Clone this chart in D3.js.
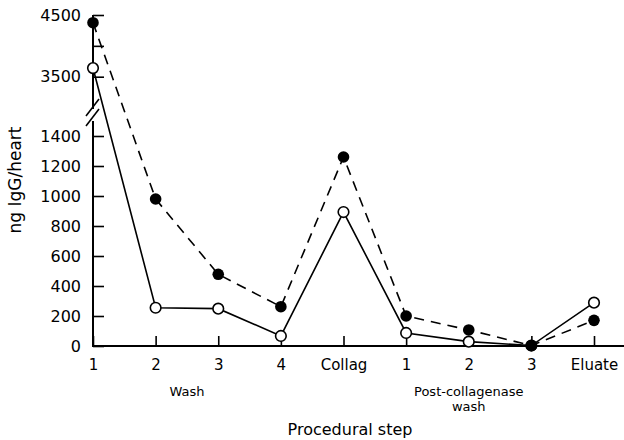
<!DOCTYPE html>
<html>
<head>
<meta charset="utf-8">
<script src="https://cdn.jsdelivr.net/npm/d3@7"></script>
<style>
  html, body { margin: 0; padding: 0; background: #fff; }
  svg { display: block; }
  text { font-family: "DejaVu Sans", sans-serif; fill: #000; }
</style>
</head>
<body>
<svg id="chart" width="624" height="440"></svg>
<script>
// ---- data ----
const categories = ["1", "2", "3", "4", "Collag", "1", "2", "3", "Eluate"];
const openValues = [3640, 255, 249, 67, 893, 87, 29, 3, 289];      // solid line, open circles
const filledValues = [4375, 980, 478, 262, 1260, 200, 107, 3, 171]; // dashed line, filled circles
const lowerTicks = [0, 200, 400, 600, 800, 1000, 1200, 1400];
const upperTicks = [3500, 4000, 4500];
const upperTickLabels = ["3500", "", "4500"];
const groupLabels = [
  { from: 0, to: 3, lines: ["Wash"] },
  { from: 5, to: 7, lines: ["Post-collagenase", "wash"] }
];
const xTitle = "Procedural step";
const yTitle = "ng IgG/heart";

// ---- layout ----
const svg = d3.select("#chart");
const x = d3.scalePoint().domain(d3.range(categories.length)).range([93, 594]);
const yLow = d3.scaleLinear().domain([0, 1400]).range([346, 136]);
const yHigh = d3.scaleLinear().domain([3500, 4500]).range([76.7, 15]);
const y = v => (v >= 3000 ? yHigh(v) : yLow(v));

const g = svg.append("g");

// x axis
const xAxis = d3.axisBottom(x)
  .tickSizeInner(-10).tickSizeOuter(0).tickPadding(13)
  .tickFormat(i => categories[i]);
const gx = g.append("g").attr("transform", "translate(0,346)").call(xAxis);
gx.select(".domain").remove();
gx.selectAll(".tick line").attr("stroke", "#000").attr("stroke-width", 1.6);
gx.selectAll(".tick text").style("font-size", "15px").style("font-family", "DejaVu Sans");
g.append("line").attr("x1", 92).attr("x2", 624).attr("y1", 346).attr("y2", 346)
  .attr("stroke", "#000").attr("stroke-width", 2);

// lower y axis
const yAxisLow = d3.axisLeft(yLow).tickValues(lowerTicks)
  .tickSizeInner(-11).tickSizeOuter(0).tickPadding(12).tickFormat(d3.format("d"));
const gyl = g.append("g").attr("transform", "translate(93,0)").call(yAxisLow);
gyl.select(".domain").remove();
// upper y axis
const yAxisHigh = d3.axisLeft(yHigh).tickValues(upperTicks)
  .tickSizeInner(-11).tickSizeOuter(0).tickPadding(12)
  .tickFormat((d, i) => upperTickLabels[i]);
const gyh = g.append("g").attr("transform", "translate(93,0)").call(yAxisHigh);
gyh.select(".domain").remove();
[gyl, gyh].forEach(a => {
  a.selectAll(".tick line").attr("stroke", "#000").attr("stroke-width", 1.6);
  a.selectAll(".tick text").style("font-size", "16px").style("font-family", "DejaVu Sans");
});
// y axis line with break
g.append("line").attr("x1", 93).attr("x2", 93).attr("y1", 15).attr("y2", 109)
  .attr("stroke", "#000").attr("stroke-width", 2);
g.append("line").attr("x1", 93).attr("x2", 93).attr("y1", 121).attr("y2", 347)
  .attr("stroke", "#000").attr("stroke-width", 2);
[[0, 0], [0, 10]].forEach(([dx, dy]) => {
  g.append("line").attr("x1", 86 + dx).attr("y1", 116 + dy).attr("x2", 99 + dx).attr("y2", 99 + dy)
    .attr("stroke", "#000").attr("stroke-width", 1.6);
});

// lines
const line = d3.line().x((d, i) => x(i)).y(d => y(d));
g.append("path").datum(openValues).attr("d", line)
  .attr("fill", "none").attr("stroke", "#000").attr("stroke-width", 1.6);
g.append("path").datum(filledValues).attr("d", line)
  .attr("fill", "none").attr("stroke", "#000").attr("stroke-width", 1.6)
  .attr("stroke-dasharray", "10,7");

// points
g.selectAll("circle.open").data(openValues).join("circle").attr("class", "open")
  .attr("cx", (d, i) => x(i)).attr("cy", d => y(d)).attr("r", 5.3)
  .attr("fill", "#fff").attr("stroke", "#000").attr("stroke-width", 1.6);
g.selectAll("circle.filled").data(filledValues).join("circle").attr("class", "filled")
  .attr("cx", (d, i) => x(i)).attr("cy", d => y(d)).attr("r", 5.8)
  .attr("fill", "#000");

// group labels
groupLabels.forEach(gl => {
  const cx = (x(gl.from) + x(gl.to)) / 2;
  gl.lines.forEach((t, k) => {
    g.append("text").attr("x", cx).attr("y", 396 + k * 15)
      .attr("text-anchor", "middle").style("font-size", "13px").text(t);
  });
});

// titles
g.append("text").attr("x", 350).attr("y", 435).attr("text-anchor", "middle")
  .style("font-size", "16px").text(xTitle);
g.append("text").attr("transform", "translate(21,180) rotate(-90)")
  .attr("text-anchor", "middle").style("font-size", "17px").text(yTitle);
</script>
</body>
</html>
